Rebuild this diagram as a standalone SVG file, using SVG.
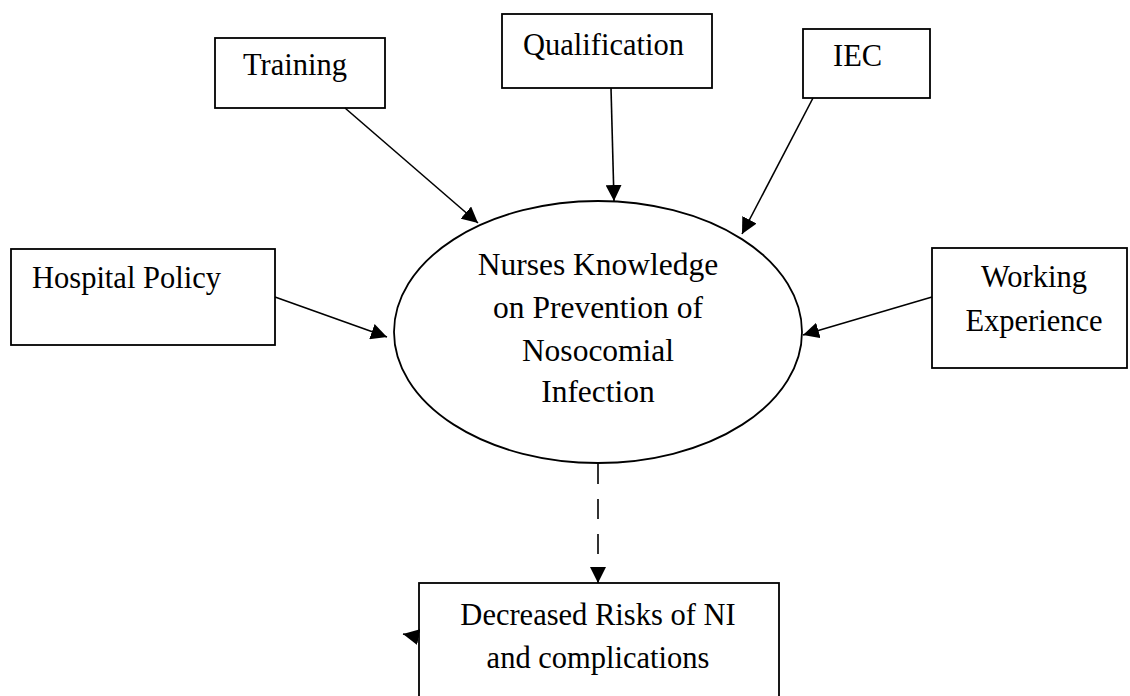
<svg xmlns="http://www.w3.org/2000/svg" width="1130" height="696" viewBox="0 0 1130 696">
<style>
.box{fill:#fff;stroke:#000;stroke-width:1.8}
.t{font-family:"Liberation Serif","Times New Roman",serif;font-size:30.5px;fill:#000}
.c{stroke:#000;stroke-width:1.6;fill:none}
</style>
<defs>
<marker id="ah" markerUnits="userSpaceOnUse" markerWidth="18" markerHeight="16" refX="16" refY="8" orient="auto">
<path d="M0,0 L16,8 L0,16 Z" fill="#000"/>
</marker>
</defs>
<rect width="1130" height="696" fill="#fff"/>
<g id="training"><rect class="box" x="215" y="38" width="170" height="70"/><text class="t" x="243" y="75">Training</text></g>
<g id="qualification"><rect class="box" x="502" y="14" width="210" height="74"/><text class="t" x="523" y="55">Qualification</text></g>
<g id="iec"><rect class="box" x="803" y="29" width="127" height="69"/><text class="t" x="833" y="66">IEC</text></g>
<g id="hospital-policy"><rect class="box" x="11" y="249" width="264" height="96"/><text class="t" x="32" y="288">Hospital Policy</text></g>
<g id="working-experience"><rect class="box" x="932" y="248" width="195" height="120"/><text class="t" x="1034" y="287" text-anchor="middle">Working</text><text class="t" x="1034" y="331" text-anchor="middle">Experience</text></g>
<g id="nurses-knowledge"><ellipse class="box" cx="598" cy="332" rx="204" ry="131"/>
<text class="t" style="font-size:31.5px" text-anchor="middle" x="598" y="275">Nurses Knowledge</text>
<text class="t" style="font-size:31.5px" text-anchor="middle" x="598" y="318">on Prevention of</text>
<text class="t" style="font-size:31.5px" text-anchor="middle" x="598" y="361">Nosocomial</text>
<text class="t" style="font-size:31.5px" text-anchor="middle" x="598" y="402">Infection</text></g>
<g id="decreased-risks"><rect class="box" x="419" y="583" width="360" height="130"/><text class="t" x="598" y="625" text-anchor="middle">Decreased Risks of NI</text><text class="t" x="598" y="668" text-anchor="middle">and complications</text></g>
<g id="connectors">
<line class="c" x1="345" y1="108" x2="478" y2="223" marker-end="url(#ah)"/>
<line class="c" x1="611" y1="88" x2="614" y2="201" marker-end="url(#ah)"/>
<line class="c" x1="813" y1="98" x2="742" y2="234" marker-end="url(#ah)"/>
<line class="c" x1="275" y1="297" x2="387" y2="337" marker-end="url(#ah)"/>
<line class="c" x1="932" y1="297" x2="803" y2="335" marker-end="url(#ah)"/>
<line class="c" x1="598" y1="464" x2="598" y2="583" stroke-dasharray="20,15" marker-end="url(#ah)"/>
<line class="c" x1="418" y1="637" x2="403" y2="634" marker-end="url(#ah)"/>
</g>
</svg>
